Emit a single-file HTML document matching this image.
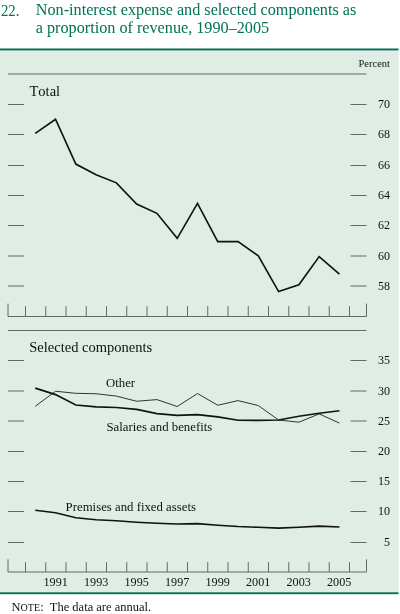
<!DOCTYPE html>
<html><head><meta charset="utf-8"><style>
html,body{margin:0;padding:0;background:#fff;}
svg{display:block;font-family:"Liberation Serif",serif;font-kerning:none;will-change:transform;}
</style></head><body>
<svg width="400" height="614" viewBox="0 0 400 614">
<rect x="0" y="49" width="398.5" height="544" fill="#dfede4"/>
<rect x="0" y="48.5" width="398.5" height="1.9" fill="#007256"/>
<rect x="0" y="592.3" width="398.5" height="1.9" fill="#007256"/>
<line x1="8" y1="74" x2="366.5" y2="74" stroke="#5f6b64" stroke-width="1"/>
<path d="M8,303.6 V316.5 H366.5 V303.6" fill="none" stroke="#5f6b64" stroke-width="1"/>
<line x1="25.5" y1="306.2" x2="25.5" y2="316.5" stroke="#5f6b64" stroke-width="1"/>
<line x1="45.75" y1="306.2" x2="45.75" y2="316.5" stroke="#5f6b64" stroke-width="1"/>
<line x1="66.0" y1="306.2" x2="66.0" y2="316.5" stroke="#5f6b64" stroke-width="1"/>
<line x1="86.25" y1="306.2" x2="86.25" y2="316.5" stroke="#5f6b64" stroke-width="1"/>
<line x1="106.5" y1="306.2" x2="106.5" y2="316.5" stroke="#5f6b64" stroke-width="1"/>
<line x1="126.75" y1="306.2" x2="126.75" y2="316.5" stroke="#5f6b64" stroke-width="1"/>
<line x1="147.0" y1="306.2" x2="147.0" y2="316.5" stroke="#5f6b64" stroke-width="1"/>
<line x1="167.25" y1="306.2" x2="167.25" y2="316.5" stroke="#5f6b64" stroke-width="1"/>
<line x1="187.5" y1="306.2" x2="187.5" y2="316.5" stroke="#5f6b64" stroke-width="1"/>
<line x1="207.75" y1="306.2" x2="207.75" y2="316.5" stroke="#5f6b64" stroke-width="1"/>
<line x1="228.0" y1="306.2" x2="228.0" y2="316.5" stroke="#5f6b64" stroke-width="1"/>
<line x1="248.25" y1="306.2" x2="248.25" y2="316.5" stroke="#5f6b64" stroke-width="1"/>
<line x1="268.5" y1="306.2" x2="268.5" y2="316.5" stroke="#5f6b64" stroke-width="1"/>
<line x1="288.75" y1="306.2" x2="288.75" y2="316.5" stroke="#5f6b64" stroke-width="1"/>
<line x1="309.0" y1="306.2" x2="309.0" y2="316.5" stroke="#5f6b64" stroke-width="1"/>
<line x1="329.25" y1="306.2" x2="329.25" y2="316.5" stroke="#5f6b64" stroke-width="1"/>
<line x1="349.5" y1="306.2" x2="349.5" y2="316.5" stroke="#5f6b64" stroke-width="1"/>
<line x1="8" y1="330.5" x2="366.5" y2="330.5" stroke="#5f6b64" stroke-width="1"/>
<path d="M8,559.3 V572.0 H366.5 V559.3" fill="none" stroke="#5f6b64" stroke-width="1"/>
<line x1="25.5" y1="562.2" x2="25.5" y2="572.0" stroke="#5f6b64" stroke-width="1"/>
<line x1="45.75" y1="562.2" x2="45.75" y2="572.0" stroke="#5f6b64" stroke-width="1"/>
<line x1="66.0" y1="562.2" x2="66.0" y2="572.0" stroke="#5f6b64" stroke-width="1"/>
<line x1="86.25" y1="562.2" x2="86.25" y2="572.0" stroke="#5f6b64" stroke-width="1"/>
<line x1="106.5" y1="562.2" x2="106.5" y2="572.0" stroke="#5f6b64" stroke-width="1"/>
<line x1="126.75" y1="562.2" x2="126.75" y2="572.0" stroke="#5f6b64" stroke-width="1"/>
<line x1="147.0" y1="562.2" x2="147.0" y2="572.0" stroke="#5f6b64" stroke-width="1"/>
<line x1="167.25" y1="562.2" x2="167.25" y2="572.0" stroke="#5f6b64" stroke-width="1"/>
<line x1="187.5" y1="562.2" x2="187.5" y2="572.0" stroke="#5f6b64" stroke-width="1"/>
<line x1="207.75" y1="562.2" x2="207.75" y2="572.0" stroke="#5f6b64" stroke-width="1"/>
<line x1="228.0" y1="562.2" x2="228.0" y2="572.0" stroke="#5f6b64" stroke-width="1"/>
<line x1="248.25" y1="562.2" x2="248.25" y2="572.0" stroke="#5f6b64" stroke-width="1"/>
<line x1="268.5" y1="562.2" x2="268.5" y2="572.0" stroke="#5f6b64" stroke-width="1"/>
<line x1="288.75" y1="562.2" x2="288.75" y2="572.0" stroke="#5f6b64" stroke-width="1"/>
<line x1="309.0" y1="562.2" x2="309.0" y2="572.0" stroke="#5f6b64" stroke-width="1"/>
<line x1="329.25" y1="562.2" x2="329.25" y2="572.0" stroke="#5f6b64" stroke-width="1"/>
<line x1="349.5" y1="562.2" x2="349.5" y2="572.0" stroke="#5f6b64" stroke-width="1"/>
<line x1="8" y1="104.5" x2="24" y2="104.5" stroke="#5f6b64" stroke-width="1"/>
<line x1="350.5" y1="104.5" x2="366.5" y2="104.5" stroke="#5f6b64" stroke-width="1"/>
<line x1="8" y1="134.5" x2="24" y2="134.5" stroke="#5f6b64" stroke-width="1"/>
<line x1="350.5" y1="134.5" x2="366.5" y2="134.5" stroke="#5f6b64" stroke-width="1"/>
<line x1="8" y1="165.5" x2="24" y2="165.5" stroke="#5f6b64" stroke-width="1"/>
<line x1="350.5" y1="165.5" x2="366.5" y2="165.5" stroke="#5f6b64" stroke-width="1"/>
<line x1="8" y1="195.5" x2="24" y2="195.5" stroke="#5f6b64" stroke-width="1"/>
<line x1="350.5" y1="195.5" x2="366.5" y2="195.5" stroke="#5f6b64" stroke-width="1"/>
<line x1="8" y1="225.5" x2="24" y2="225.5" stroke="#5f6b64" stroke-width="1"/>
<line x1="350.5" y1="225.5" x2="366.5" y2="225.5" stroke="#5f6b64" stroke-width="1"/>
<line x1="8" y1="256.0" x2="24" y2="256.0" stroke="#5f6b64" stroke-width="1"/>
<line x1="350.5" y1="256.0" x2="366.5" y2="256.0" stroke="#5f6b64" stroke-width="1"/>
<line x1="8" y1="286.0" x2="24" y2="286.0" stroke="#5f6b64" stroke-width="1"/>
<line x1="350.5" y1="286.0" x2="366.5" y2="286.0" stroke="#5f6b64" stroke-width="1"/>
<line x1="8" y1="360.5" x2="24" y2="360.5" stroke="#5f6b64" stroke-width="1"/>
<line x1="350.5" y1="360.5" x2="366.5" y2="360.5" stroke="#5f6b64" stroke-width="1"/>
<line x1="8" y1="391.0" x2="24" y2="391.0" stroke="#5f6b64" stroke-width="1"/>
<line x1="350.5" y1="391.0" x2="366.5" y2="391.0" stroke="#5f6b64" stroke-width="1"/>
<line x1="8" y1="421.0" x2="24" y2="421.0" stroke="#5f6b64" stroke-width="1"/>
<line x1="350.5" y1="421.0" x2="366.5" y2="421.0" stroke="#5f6b64" stroke-width="1"/>
<line x1="8" y1="451.5" x2="24" y2="451.5" stroke="#5f6b64" stroke-width="1"/>
<line x1="350.5" y1="451.5" x2="366.5" y2="451.5" stroke="#5f6b64" stroke-width="1"/>
<line x1="8" y1="481.5" x2="24" y2="481.5" stroke="#5f6b64" stroke-width="1"/>
<line x1="350.5" y1="481.5" x2="366.5" y2="481.5" stroke="#5f6b64" stroke-width="1"/>
<line x1="8" y1="511.5" x2="24" y2="511.5" stroke="#5f6b64" stroke-width="1"/>
<line x1="350.5" y1="511.5" x2="366.5" y2="511.5" stroke="#5f6b64" stroke-width="1"/>
<line x1="8" y1="542.5" x2="24" y2="542.5" stroke="#5f6b64" stroke-width="1"/>
<line x1="350.5" y1="542.5" x2="366.5" y2="542.5" stroke="#5f6b64" stroke-width="1"/>
<polyline points="35.25,133.35 55.53,119.25 75.81,164.10 96.09,174.85 116.37,182.85 136.65,204.10 156.93,213.35 177.21,238.35 197.49,203.35 217.77,241.60 238.05,241.60 258.33,255.85 278.61,291.60 298.89,284.85 319.17,256.60 339.45,274.10" fill="none" stroke="#111" stroke-width="1.65" stroke-linejoin="miter"/>
<polyline points="35.25,406.25 55.53,391.25 75.81,393.30 96.09,393.75 116.37,396.10 136.65,401.25 156.93,399.60 177.21,406.50 197.49,393.50 217.77,405.25 238.05,400.60 258.33,405.60 278.61,420.00 298.89,422.20 319.17,413.90 339.45,423.10" fill="none" stroke="#333" stroke-width="1" stroke-linejoin="miter"/>
<polyline points="35.25,388.10 55.53,394.60 75.81,405.00 96.09,406.90 116.37,407.50 136.65,409.40 156.93,413.60 177.21,415.40 197.49,414.60 217.77,416.90 238.05,420.30 258.33,420.40 278.61,420.00 298.89,416.20 319.17,413.20 339.45,410.70" fill="none" stroke="#111" stroke-width="1.65" stroke-linejoin="miter"/>
<polyline points="35.25,510.25 55.53,512.75 75.81,517.80 96.09,519.75 116.37,520.80 136.65,522.20 156.93,523.25 177.21,524.00 197.49,523.60 217.77,525.20 238.05,526.50 258.33,527.30 278.61,528.10 298.89,527.30 319.17,526.20 339.45,527.00" fill="none" stroke="#111" stroke-width="1.65" stroke-linejoin="miter"/>
<text transform="translate(390,108.3) scale(0.94,1)" font-size="12.8" text-anchor="end" fill="#111" stroke="#111" stroke-width="0" >70</text>
<text transform="translate(390,138.3) scale(0.94,1)" font-size="12.8" text-anchor="end" fill="#111" stroke="#111" stroke-width="0" >68</text>
<text transform="translate(390,169.3) scale(0.94,1)" font-size="12.8" text-anchor="end" fill="#111" stroke="#111" stroke-width="0" >66</text>
<text transform="translate(390,199.3) scale(0.94,1)" font-size="12.8" text-anchor="end" fill="#111" stroke="#111" stroke-width="0" >64</text>
<text transform="translate(390,229.3) scale(0.94,1)" font-size="12.8" text-anchor="end" fill="#111" stroke="#111" stroke-width="0" >62</text>
<text transform="translate(390,259.8) scale(0.94,1)" font-size="12.8" text-anchor="end" fill="#111" stroke="#111" stroke-width="0" >60</text>
<text transform="translate(390,289.8) scale(0.94,1)" font-size="12.8" text-anchor="end" fill="#111" stroke="#111" stroke-width="0" >58</text>
<text transform="translate(390,364.3) scale(0.94,1)" font-size="12.8" text-anchor="end" fill="#111" stroke="#111" stroke-width="0" >35</text>
<text transform="translate(390,394.8) scale(0.94,1)" font-size="12.8" text-anchor="end" fill="#111" stroke="#111" stroke-width="0" >30</text>
<text transform="translate(390,424.8) scale(0.94,1)" font-size="12.8" text-anchor="end" fill="#111" stroke="#111" stroke-width="0" >25</text>
<text transform="translate(390,455.3) scale(0.94,1)" font-size="12.8" text-anchor="end" fill="#111" stroke="#111" stroke-width="0" >20</text>
<text transform="translate(390,485.3) scale(0.94,1)" font-size="12.8" text-anchor="end" fill="#111" stroke="#111" stroke-width="0" >15</text>
<text transform="translate(390,515.3) scale(0.94,1)" font-size="12.8" text-anchor="end" fill="#111" stroke="#111" stroke-width="0" >10</text>
<text transform="translate(390,546.3) scale(0.94,1)" font-size="12.8" text-anchor="end" fill="#111" stroke="#111" stroke-width="0" >5</text>
<text transform="translate(55.65,586.3) scale(0.95,1)" font-size="12.8" text-anchor="middle" fill="#111" stroke="#111" stroke-width="0" >1991</text>
<text transform="translate(96.15,586.3) scale(0.95,1)" font-size="12.8" text-anchor="middle" fill="#111" stroke="#111" stroke-width="0" >1993</text>
<text transform="translate(136.65,586.3) scale(0.95,1)" font-size="12.8" text-anchor="middle" fill="#111" stroke="#111" stroke-width="0" >1995</text>
<text transform="translate(177.15,586.3) scale(0.95,1)" font-size="12.8" text-anchor="middle" fill="#111" stroke="#111" stroke-width="0" >1997</text>
<text transform="translate(217.65,586.3) scale(0.95,1)" font-size="12.8" text-anchor="middle" fill="#111" stroke="#111" stroke-width="0" >1999</text>
<text transform="translate(258.15,586.3) scale(0.95,1)" font-size="12.8" text-anchor="middle" fill="#111" stroke="#111" stroke-width="0" >2001</text>
<text transform="translate(298.65,586.3) scale(0.95,1)" font-size="12.8" text-anchor="middle" fill="#111" stroke="#111" stroke-width="0" >2003</text>
<text transform="translate(339.15,586.3) scale(0.95,1)" font-size="12.8" text-anchor="middle" fill="#111" stroke="#111" stroke-width="0" >2005</text>
<text x="29.5" y="95.8" font-size="14.5" text-anchor="start" fill="#111" stroke="#111" stroke-width="0" >Total</text>
<text x="29.3" y="351.9" font-size="14.5" text-anchor="start" fill="#111" stroke="#111" stroke-width="0" >Selected components</text>
<text transform="translate(106,386.5) scale(0.955,1)" font-size="13.4" text-anchor="start" fill="#111" stroke="#111" stroke-width="0" >Other</text>
<text transform="translate(106.4,431) scale(0.955,1)" font-size="13.4" text-anchor="start" fill="#111" stroke="#111" stroke-width="0" >Salaries and benefits</text>
<text transform="translate(65.6,510.5) scale(0.955,1)" font-size="13.4" text-anchor="start" fill="#111" stroke="#111" stroke-width="0" >Premises and fixed assets</text>
<text x="390" y="67" font-size="10.5" text-anchor="end" fill="#111" stroke="#111" stroke-width="0" >Percent</text>
<text transform="translate(0.9,15.6) scale(0.9,1)" font-size="16.5" fill="#007256">22.</text>
<text x="35.8" y="15.4" font-size="16.2" text-anchor="start" fill="#007256" stroke="#007256" stroke-width="0" >Non-interest expense and selected components as</text>
<text x="35.8" y="33.3" font-size="16.2" text-anchor="start" fill="#007256" stroke="#007256" stroke-width="0" >a proportion of revenue, 1990–2005</text>
<text transform="translate(11.6,611.2) scale(0.95,1)" font-size="13.1" fill="#111">N<tspan font-size="10.6">OTE</tspan>:</text>
<text transform="translate(49.8,611.2) scale(0.955,1)" font-size="13.1" text-anchor="start" fill="#111" stroke="#111" stroke-width="0" >The data are annual.</text>
</svg></body></html>
